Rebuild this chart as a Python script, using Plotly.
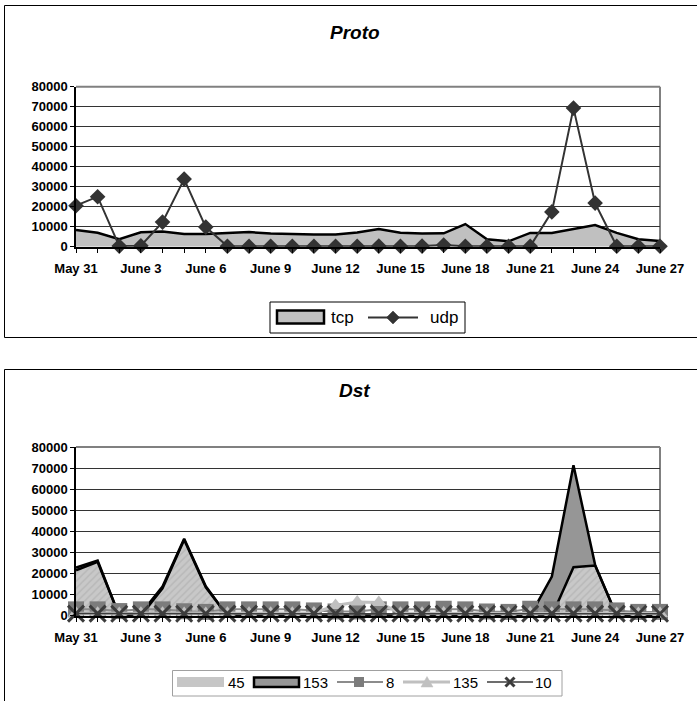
import plotly.graph_objects as go

# Daily traffic, May 31 - June 27
days = ["May 31", "June 1", "June 2", "June 3", "June 4", "June 5", "June 6",
        "June 7", "June 8", "June 9", "June 10", "June 11", "June 12", "June 13",
        "June 14", "June 15", "June 16", "June 17", "June 18", "June 19", "June 20",
        "June 21", "June 22", "June 23", "June 24", "June 25", "June 26", "June 27"]

# Proto panel
tcp = [8300, 7000, 3800, 7200, 7600, 6400, 6400, 6900, 7300, 6600, 6300, 6100, 6100, 7100,
       8900, 7000, 6600, 6700, 11300, 3700, 2700, 6900, 6900, 9000, 10800, 6900, 3700, 2800]
udp = [20500, 25000, 300, 500, 12300, 33800, 9800, 200, 200, 200, 200, 200, 200, 200,
       300, 200, 300, 800, 200, 200, 200, 200, 17400, 69300, 21800, 200, 200, 200]

# Dst panel
dst_45 = [21500, 25500, 0, 0, 13000, 36000, 13500, 0, 0, 0, 0, 0, 0, 0,
          0, 0, 0, 0, 0, 0, 0, 0, 0, 23000, 23800, 0, 0, 0]
dst_153 = [1300, 700, 0, 1000, 800, 500, 500, 0, 0, 0, 0, 0, 0, 0,
           0, 0, 0, 0, 0, 0, 0, 0, 18600, 48300, 300, 0, 0, 0]
dst_8 = [3000, 3000, 2200, 3000, 3000, 2100, 1800, 3000, 3000, 3000, 3000, 2500, 2000, 2000,
         3000, 3000, 3000, 3300, 3000, 2000, 1800, 3300, 3000, 3000, 3000, 2500, 1800, 1800]
dst_135 = [1200, 1200, 1000, 1200, 1200, 1000, 1000, 1200, 1200, 1200, 1200, 1300, 4800, 6500,
           6300, 1200, 1200, 1300, 1200, 1000, 1000, 1300, 1200, 1200, 1200, 1100, 1000, 1000]
dst_10 = [1000, 1000, 900, 1000, 1000, 900, 900, 1000, 1000, 1000, 1000, 1000, 900, 900,
          1000, 1000, 1000, 1000, 1000, 900, 900, 1000, 1000, 1000, 1000, 1000, 900, 900]

y_ticks = [0, 10000, 20000, 30000, 40000, 50000, 60000, 70000, 80000]

W, H = 697, 701
FONT = "Arial, Liberation Sans, sans-serif"

COL_TCP = "#c0c0c0"
COL_UDP = "#333333"
COL_45 = "#c6c6c6"
COL_153 = "#969696"
COL_8 = "#7c7c7c"
COL_8_LINE = "#8c8c8c"
COL_135 = "#c0c0c0"
COL_10 = "#3c3c3c"


def px(v):
    return v / W


def py(v):
    return 1 - v / H


xs = list(range(len(days)))
xlabels = [d if i % 3 == 0 else "" for i, d in enumerate(days)]

fig = go.Figure()

# ---- Proto ----
fig.add_trace(go.Scatter(
    x=xs, y=tcp, name="tcp", mode="lines", fill="tozeroy",
    fillcolor=COL_TCP, line=dict(color="black", width=2.5),
    xaxis="x", yaxis="y", showlegend=False, cliponaxis=False))
fig.add_trace(go.Scatter(
    x=xs, y=udp, name="udp", mode="lines+markers",
    line=dict(color=COL_UDP, width=2),
    marker=dict(symbol="diamond", size=12, color=COL_UDP),
    xaxis="x", yaxis="y", showlegend=False, cliponaxis=False))

# ---- Dst ----
fig.add_trace(go.Scatter(
    x=xs, y=dst_45, name="45", mode="lines", stackgroup="dst",
    fillcolor=COL_45,
    fillpattern=dict(shape="/", fgcolor="#a8a8a8", bgcolor="#c8c8c8", size=5, solidity=0.3),
    line=dict(color="black", width=2.5),
    xaxis="x2", yaxis="y2", showlegend=False, cliponaxis=False))
fig.add_trace(go.Scatter(
    x=xs, y=dst_153, name="153", mode="lines", stackgroup="dst",
    fillcolor=COL_153, line=dict(color="black", width=2.5),
    xaxis="x2", yaxis="y2", showlegend=False, cliponaxis=False))
fig.add_trace(go.Scatter(
    x=xs, y=dst_8, name="8", mode="lines+markers",
    line=dict(color=COL_8_LINE, width=2),
    marker=dict(symbol="square", size=16, color=COL_8),
    xaxis="x2", yaxis="y2", showlegend=False, cliponaxis=False))
fig.add_trace(go.Scatter(
    x=xs, y=dst_135, name="135", mode="lines+markers",
    line=dict(color=COL_135, width=3),
    marker=dict(symbol="triangle-up", size=14, color=COL_135),
    xaxis="x2", yaxis="y2", showlegend=False, cliponaxis=False))
fig.add_trace(go.Scatter(
    x=xs, y=dst_10, name="10", mode="lines+markers",
    line=dict(color=COL_10, width=1.5),
    marker=dict(symbol="x-thin", size=16, color=COL_10,
                line=dict(color=COL_10, width=3)),
    xaxis="x2", yaxis="y2", showlegend=False, cliponaxis=False))

tick_font = dict(family=FONT, size=13, color="black", weight="bold")


def xaxis_cfg(anchor):
    return dict(domain=[px(76), px(660)], anchor=anchor, range=[0, 27],
                tickmode="array", tickvals=xs, ticktext=xlabels,
                ticks="outside", ticklen=4, tickcolor="black", tickwidth=1,
                showline=True, linecolor="black", linewidth=2,
                showgrid=False, zeroline=False, tickfont=tick_font,
                ticklabelstandoff=5, fixedrange=True, automargin=False)


def yaxis_cfg(anchor, ylo, yhi):
    return dict(domain=[ylo, yhi], anchor=anchor, range=[0, 80000],
                tickmode="array", tickvals=y_ticks, ticktext=[str(v) for v in y_ticks],
                ticks="outside", ticklen=4, tickcolor="black",
                showline=True, linecolor="black", linewidth=1.5,
                showgrid=True, gridcolor="#333333", gridwidth=1,
                zeroline=False, tickfont=tick_font, fixedrange=True, automargin=False)


top_lo, top_hi = py(246.7), py(86.7)
bot_lo, bot_hi = py(615.7), py(447.0)

fig.update_layout(
    width=W, height=H,
    margin=dict(l=0, r=0, t=0, b=0, pad=0, autoexpand=False),
    paper_bgcolor="white", plot_bgcolor="white",
    font=dict(family=FONT, color="black"),
    xaxis=xaxis_cfg("y"),
    yaxis=yaxis_cfg("x", top_lo, top_hi),
    xaxis2=xaxis_cfg("y2"),
    yaxis2=yaxis_cfg("x2", bot_lo, bot_hi),
    showlegend=False,
)

shapes = []
annotations = []

# Panel titles
annotations.append(dict(text="<b><i>Proto</i></b>", x=px(355), y=py(32), xref="paper",
                        yref="paper", xanchor="center", yanchor="middle", showarrow=False,
                        font=dict(family=FONT, size=19, color="black")))
annotations.append(dict(text="<b><i>Dst</i></b>", x=px(354), y=py(390), xref="paper",
                        yref="paper", xanchor="center", yanchor="middle", showarrow=False,
                        font=dict(family=FONT, size=19, color="black")))

# Outer chart boxes
shapes.append(dict(type="rect", xref="paper", yref="paper", x0=px(4.5), x1=px(704),
                   y0=py(337.5), y1=py(5.5), line=dict(color="black", width=1)))
shapes.append(dict(type="rect", xref="paper", yref="paper", x0=px(4.5), x1=px(704),
                   y0=py(708), y1=py(369.5), line=dict(color="black", width=1)))

# Plot-area frame (top and right edges)
for lo, hi in ((top_lo, top_hi), (bot_lo, bot_hi)):
    shapes.append(dict(type="line", xref="paper", yref="paper", x0=px(76), x1=px(660),
                       y0=hi, y1=hi, line=dict(color="#808080", width=2), layer="above"))
    shapes.append(dict(type="line", xref="paper", yref="paper", x0=px(660), x1=px(660),
                       y0=lo, y1=hi, line=dict(color="#808080", width=2), layer="below"))


# ---- legend keys (pixel layout helpers) ----
def rect(x0, y0, x1, y1, fill, line_color=None, line_width=0):
    shapes.append(dict(type="rect", xref="paper", yref="paper",
                       x0=px(x0), x1=px(x1), y0=py(y1), y1=py(y0),
                       fillcolor=fill,
                       line=dict(color=line_color or fill, width=line_width)))


def hline(x0, x1, y, color, width):
    shapes.append(dict(type="line", xref="paper", yref="paper",
                       x0=px(x0), x1=px(x1), y0=py(y), y1=py(y),
                       line=dict(color=color, width=width)))


def poly(points, fill):
    d = "M" + " L".join(f"{px(a):.5f},{py(b):.5f}" for a, b in points) + " Z"
    shapes.append(dict(type="path", xref="paper", yref="paper", path=d,
                       fillcolor=fill, line=dict(color=fill, width=0.5)))


def cross(cx, cy, r, color, width):
    for dx in (-r, r):
        shapes.append(dict(type="line", xref="paper", yref="paper",
                           x0=px(cx - dx), x1=px(cx + dx), y0=py(cy - r), y1=py(cy + r),
                           line=dict(color=color, width=width)))


def label(text, x, y, size):
    annotations.append(dict(text=text, x=px(x), y=py(y), xref="paper", yref="paper",
                            xanchor="left", yanchor="middle", showarrow=False,
                            font=dict(family=FONT, size=size, color="black")))


# Proto legend
rect(270, 302, 465, 333, "white", "black", 1)
rect(277, 310.5, 324, 323.5, COL_TCP, "black", 2.5)
label("tcp", 329, 317.5, 17)
hline(368, 418, 317.5, COL_UDP, 2)
poly([(393, 311), (399.5, 317.5), (393, 324), (386.5, 317.5)], COL_UDP)
label("udp", 428, 317.5, 17)

# Dst legend
rect(172.5, 670.5, 562, 696, "white", "#a0a0a0", 1)
rect(177, 677, 224, 687, COL_45)
label("45", 226, 682, 15)
rect(254, 677.5, 299, 687, COL_153, "black", 2.5)
label("153", 301, 682, 15)
hline(337, 383, 682, COL_8_LINE, 2)
rect(354, 677, 364, 687, COL_8)
label("8", 384, 682, 15)
hline(403, 450, 682, COL_135, 3)
poly([(427, 676.5), (433, 687), (421, 687)], COL_135)
label("135", 451, 682, 15)
hline(487, 533, 682, COL_10, 1.5)
cross(510, 682, 4.5, COL_10, 3)
label("10", 533, 682, 15)

fig.update_layout(shapes=shapes, annotations=annotations)

fig.write_html("out.html")
